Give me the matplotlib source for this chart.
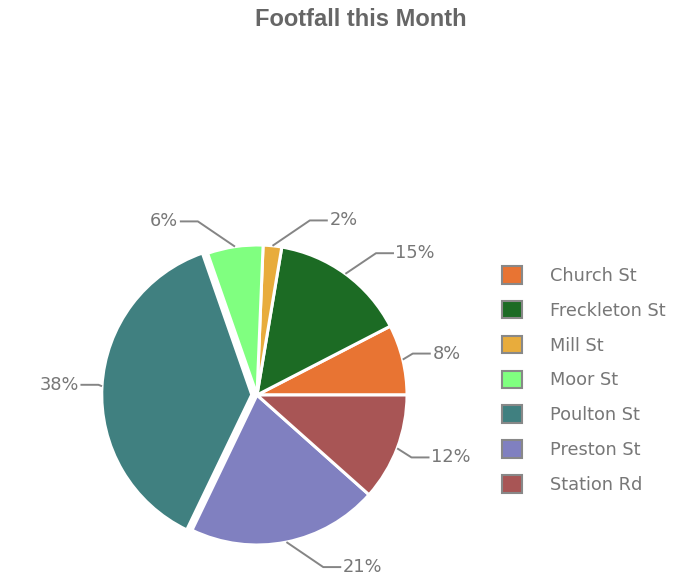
import numpy as np
import matplotlib
matplotlib.use("Agg")
import matplotlib.pyplot as plt
from matplotlib.patches import Patch

plt.rcParams['font.family'] = ['DejaVu Sans']

streets = ['Church St', 'Freckleton St', 'Mill St', 'Moor St',
           'Poulton St', 'Preston St', 'Station Rd']
footfall = [76, 148, 20, 60, 376, 206, 116]
colors = ['#E87433', '#1C6B24', '#E8AC3C', '#80FF80',
          '#408080', '#8080C0', '#A85555']
explode = [0, 0, 0, 0, 0.035, 0, 0]

fig = plt.figure(figsize=(6.91, 5.79), dpi=100)
ax = fig.add_axes([0, 0, 1, 1])

wedges, _ = ax.pie(footfall, colors=colors, explode=explode, startangle=0,
                   counterclock=True, radius=1.0,
                   wedgeprops=dict(edgecolor='white', linewidth=2.2))

# 1 data unit = 150 px, pie centre at (257, 395) px
ax.set_xlim(-257 / 150, (691 - 257) / 150)
ax.set_ylim(-(579 - 395) / 150, 395 / 150)
ax.set_aspect('equal')
ax.axis('off')

total = sum(footfall)
grey_txt = '#777777'
grey_line = '#858585'
for w, v, ex in zip(wedges, footfall, explode):
    mid = np.deg2rad((w.theta1 + w.theta2) / 2)
    c, s = np.cos(mid), np.sin(mid)
    sx, sy = (1 + ex) * c, (1 + ex) * s
    side = 1 if c >= 0 else -1
    ex_x = sx + side * 0.24 * abs(s) + side * 0.01
    ex_y = sy + 0.17 * s
    end_x = ex_x + side * 0.12
    ax.plot([sx, ex_x, end_x], [sy, ex_y, ex_y], color=grey_line, lw=1.4,
            solid_capstyle='butt')
    ax.text(end_x + side * 0.01, ex_y, '{:.0f}%'.format(100 * v / total),
            ha='left' if side > 0 else 'right', va='center',
            fontsize=12.8, color=grey_txt)

handles = [Patch(facecolor=col, edgecolor='#888888', linewidth=1.5)
           for col in colors]
fig.legend(handles, streets, loc='upper left',
           bbox_to_anchor=(502 / 691, 1 - 266 / 579), frameon=False,
           fontsize=12.8, labelcolor=grey_txt, handlelength=1.15,
           handleheight=1.15, handletextpad=1.55, labelspacing=0.9,
           borderpad=0, borderaxespad=0)

fig.text(361 / 691, 1 - 20 / 579, 'Footfall this Month', ha='center',
         va='center', fontsize=17, fontweight='bold', color='#666666',
         family='Liberation Sans')

fig.savefig('out.png', dpi=100)
